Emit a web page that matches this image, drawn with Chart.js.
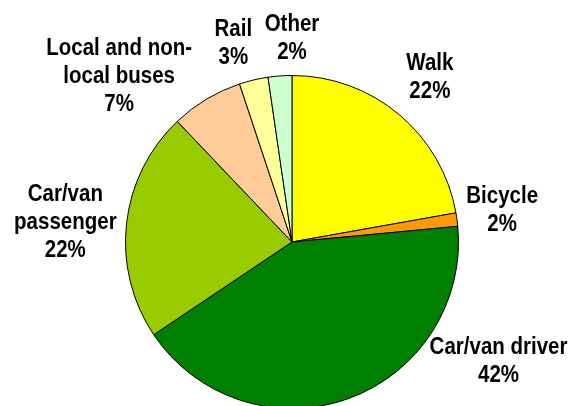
<!DOCTYPE html>
<html>
<head>
<meta charset="utf-8">
<script src="https://cdn.jsdelivr.net/npm/chart.js@4/dist/chart.umd.min.js"></script>
<style>
    html, body {
        margin: 0;
        padding: 0;
        background: #ffffff;
        overflow: hidden;
    }
    #wrap {
        width: 576px;
        height: 412px;
    }
</style>
</head>
<body>
<div id="wrap"><canvas id="modeChart" width="576" height="412"></canvas></div>
<script>
// Travel mode share (percent), clockwise from 12 o'clock
const modes = ['Walk', 'Bicycle', 'Car/van driver', 'Car/van passenger', 'Local and non-local buses', 'Rail', 'Other'];
const shares = [22.2, 1.3, 42.1, 22.3, 7.0, 2.8, 2.3];
const shareLabels = ['22%', '2%', '42%', '22%', '7%', '3%', '2%'];
const labelLines = [
    ['Walk'],
    ['Bicycle'],
    ['Car/van driver'],
    ['Car/van', 'passenger'],
    ['Local and non-', 'local buses'],
    ['Rail'],
    ['Other']
];
const sliceColors = ['#FFFF00', '#FF9900', '#008000', '#99CC00', '#FFCC99', '#FFFF99', '#CCFFCC'];

// where each label block sits: angle from 12 o'clock (deg, clockwise), gap beyond the rim (px)
const labelPlacement = [
    { angle: 40, gap: 48 },
    { angle: 81.5, gap: 46 },
    { angle: 120, gap: 72 },
    { angle: 274.9, gap: 61 },
    { angle: 313.8, gap: 73 },
    { angle: 343.5, gap: 40 },
    { angle: 0, gap: 37 }
];

const LINE_HEIGHT = 28;
const LABEL_FONT = 'bold 20.5px "Liberation Sans", Arial, sans-serif';
const TEXT_STRETCH_Y = 1.13; // the original labels are a little taller than plain Arial

const outsideLabels = {
    id: 'outsideLabels',
    afterDatasetsDraw(chart) {
        const ctx = chart.ctx;
        const arcs = chart.getDatasetMeta(0).data;
        ctx.save();
        ctx.font = LABEL_FONT;
        ctx.fillStyle = '#000000';
        ctx.textAlign = 'center';
        ctx.textBaseline = 'middle';
        arcs.forEach((arc, i) => {
            const p = labelPlacement[i];
            const rad = (p.angle - 90) * Math.PI / 180;
            const dist = arc.outerRadius + p.gap;
            const cx = arc.x + Math.cos(rad) * dist;
            const cy = arc.y + Math.sin(rad) * dist;
            const lines = labelLines[i].concat([shareLabels[i]]);
            const top = cy - (lines.length - 1) * LINE_HEIGHT / 2;
            lines.forEach((line, j) => {
                ctx.save();
                ctx.translate(cx, top + j * LINE_HEIGHT);
                ctx.scale(1, TEXT_STRETCH_Y);
                ctx.fillText(line, 0, 0);
                ctx.restore();
            });
        });
        ctx.restore();
    }
};

new Chart(document.getElementById('modeChart'), {
    type: 'pie',
    data: {
        labels: modes,
        datasets: [{
            data: shares,
            backgroundColor: sliceColors,
            borderColor: '#000000',
            borderWidth: 1
        }]
    },
    options: {
        responsive: false,
        animation: false,
        layout: {
            padding: { top: 75, bottom: 3, left: 8, right: 0 }
        },
        plugins: {
            legend: { display: false },
            tooltip: { enabled: false }
        }
    },
    plugins: [outsideLabels]
});
</script>
</body>
</html>
